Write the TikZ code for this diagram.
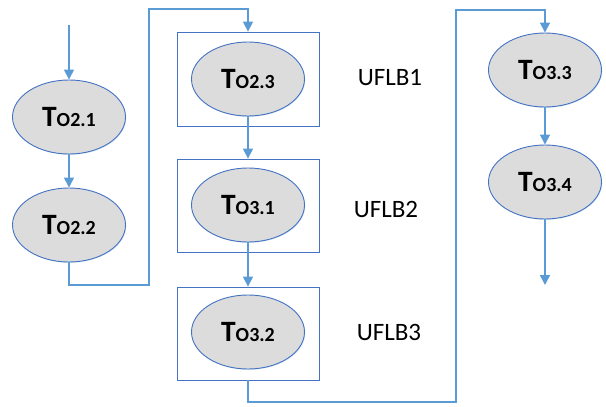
\documentclass[tikz,border=0pt]{standalone}
\usepackage{fontspec}
\setmainfont{Carlito}
\usetikzlibrary{arrows.meta,shadows,shapes.geometric}
\definecolor{lineblue}{HTML}{5B9BD5}
\definecolor{edgeblue}{HTML}{4472C4}
\definecolor{fillgray}{HTML}{DCDCDC}
\tikzset{
  task/.style={ellipse, draw=edgeblue, line width=0.9pt, fill=fillgray,
    minimum width=113pt, minimum height=74pt, inner sep=0pt,
    drop shadow={shadow xshift=0.8pt, shadow yshift=-0.8pt, opacity=0.25, fill=lineblue}},
  blockbox/.style={draw=edgeblue, line width=0.8pt},
  conn/.style={draw=lineblue, line width=1.4pt, -{Triangle[length=10pt,width=10pt]}},
  lbl/.style={font=\fontsize{25}{25}\selectfont, inner sep=0pt}
}
\newcommand{\tlab}[1]{\bfseries\fontsize{29.5}{29.5}\selectfont T\fontsize{20}{20}\selectfont #1}
\begin{document}
\begin{tikzpicture}[x=1pt,y=-1pt]
\useasboundingbox (0,0) rectangle (606,407);
% boxes
\node[blockbox, minimum width=142pt, minimum height=94pt, inner sep=0pt] (b1) at (248,79) {};
\node[blockbox, minimum width=142pt, minimum height=93pt, inner sep=0pt] (b2) at (248,205.5) {};
\node[blockbox, minimum width=142pt, minimum height=93pt, inner sep=0pt] (b3) at (248,333.5) {};
% ellipses
\node[task] (e21) at (69,117) {\tlab{O2.1}};
\node[task] (e22) at (69,225) {\tlab{O2.2}};
\node[task] (e23) at (248,79) {\tlab{O2.3}};
\node[task] (e31) at (248,205) {\tlab{O3.1}};
\node[task] (e32) at (248,332) {\tlab{O3.2}};
\node[task] (e33) at (545,70) {\tlab{O3.3}};
\node[task] (e34) at (545,182) {\tlab{O3.4}};
% labels
\node[lbl] (l1) at (390,78) {UFLB1};
\node[lbl] (l2) at (386,209) {UFLB2};
\node[lbl] (l3) at (389,332) {UFLB3};
% coordinates
\coordinate (in) at (69,25);
\coordinate (out) at (545,285);
\coordinate (c1) at (69,285);
\coordinate (c2) at (149,285);
\coordinate (c3) at (149,9);
\coordinate (c4) at (248,9);
\coordinate (d1) at (248,402);
\coordinate (d2) at (456,402);
\coordinate (d3) at (456,10);
\coordinate (d4) at (545,10);
% connectors
\draw[conn] (in) -- (e21.north);
\draw[conn] (e21.south) -- (e22.north);
\draw[conn] (e22.south) -- (c1) -- (c2) -- (c3) -- (c4) -- (b1.north);
\draw[conn] (e23.south) -- (b2.north);
\draw[conn] (e31.south) -- (b3.north);
\draw[conn] (b3.south) -- (d1) -- (d2) -- (d3) -- (d4) -- (e33.north);
\draw[conn] (e33.south) -- (e34.north);
\draw[conn] (e34.south) -- (out);
\end{tikzpicture}
\end{document}
